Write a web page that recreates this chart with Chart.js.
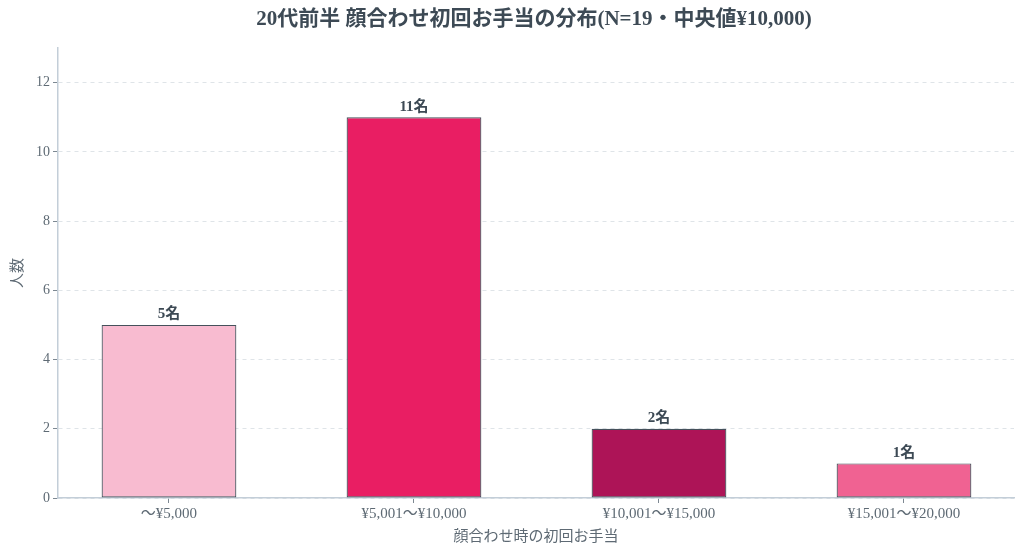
<!DOCTYPE html>
<html>
<head>
<meta charset="utf-8">
<script src="https://cdn.jsdelivr.net/npm/chart.js@4/dist/chart.umd.min.js"></script>
<style>
  html, body { margin: 0; padding: 0; background: #fff; }
  #wrap { width: 1024px; height: 557px; }
</style>
</head>
<body>
<div id="wrap"><canvas id="chart"></canvas></div>
<script>
const categories = ['〜¥5,000', '¥5,001〜¥10,000', '¥10,001〜¥15,000', '¥15,001〜¥20,000']
const counts = [5, 11, 2, 1]
const barColors = ['#f8bbd0', '#e91e63', '#ad1457', '#f06292']
const yTicks = [0, 2, 4, 6, 8, 10, 12]

const FONT = "'Liberation Serif', 'DejaVu Serif', 'Noto Sans CJK JP', serif"
const INK = '#3d4a55'
const MUTED = '#5e6a74'

// title and value labels drawn straight onto the canvas
const labelsPlugin = {
  id: 'labels',
  afterDatasetsDraw(chart) {
    const ctx = chart.ctx
    const meta = chart.getDatasetMeta(0)
    ctx.save()
    ctx.fillStyle = INK
    ctx.textAlign = 'center'
    ctx.textBaseline = 'bottom'
    ctx.font = 'bold 15px ' + FONT
    meta.data.forEach((bar, i) => {
      ctx.fillText(counts[i] + '名', bar.x, bar.y - 3)
    })
    ctx.font = 'bold 21px ' + FONT
    ctx.textBaseline = 'middle'
    ctx.fillText('20代前半 顔合わせ初回お手当の分布(N=19・中央値¥10,000)', 534, 20)
    ctx.restore()
  },
}

new Chart(document.getElementById('chart'), {
  type: 'bar',
  data: {
    datasets: [{
      data: counts.map((v, i) => ({ x: i, y: v })),
      backgroundColor: barColors,
      borderColor: '#46515b',
      borderWidth: 1.2,
      borderSkipped: false,
      barPercentage: 0.55,
      categoryPercentage: 1,
    }],
  },
  options: {
    responsive: true,
    maintainAspectRatio: false,
    animation: false,
    layout: { padding: { top: 48, right: 10, left: 0, bottom: 0 } },
    plugins: {
      legend: { display: false },
      tooltip: { enabled: false },
    },
    scales: {
      x: {
        type: 'linear',
        offset: false,
        min: -0.453,
        max: 3.449,
        afterFit(scale) { scale.height = 59 },
        afterBuildTicks(scale) { scale.ticks = categories.map((c, i) => ({ value: i })) },
        ticks: {
          callback: (v) => categories[v],
          color: MUTED,
          font: { family: FONT, size: 15 },
          padding: 2,
          maxRotation: 0,
        },
        grid: {
          offset: false,
          drawOnChartArea: false,
          drawTicks: true,
          tickLength: 5,
          tickColor: '#7d8892',
        },
        border: { color: '#c3ced8', width: 1.5 },
        title: {
          display: true,
          text: '顔合わせ時の初回お手当',
          color: MUTED,
          font: { family: FONT, size: 15 },
          padding: { top: 0, bottom: 11 },
        },
      },
      y: {
        min: 0,
        max: 13,
        afterFit(scale) { scale.width = 58 },
        afterBuildTicks(scale) { scale.ticks = yTicks.map((v) => ({ value: v })) },
        ticks: {
          color: MUTED,
          font: { family: FONT, size: 14 },
          padding: 3,
        },
        grid: {
          color: '#dfe4e8',
          tickBorderDash: [],
          tickColor: '#7d8892',
          tickLength: 5,
        },
        border: { color: '#c3ced8', width: 1.5, dash: [4, 4] },
        title: {
          display: true,
          text: '人数',
          color: MUTED,
          font: { family: FONT, size: 15 },
          padding: { top: 9, bottom: 0 },
        },
      },
    },
  },
  plugins: [labelsPlugin],
})
</script>
</body>
</html>
